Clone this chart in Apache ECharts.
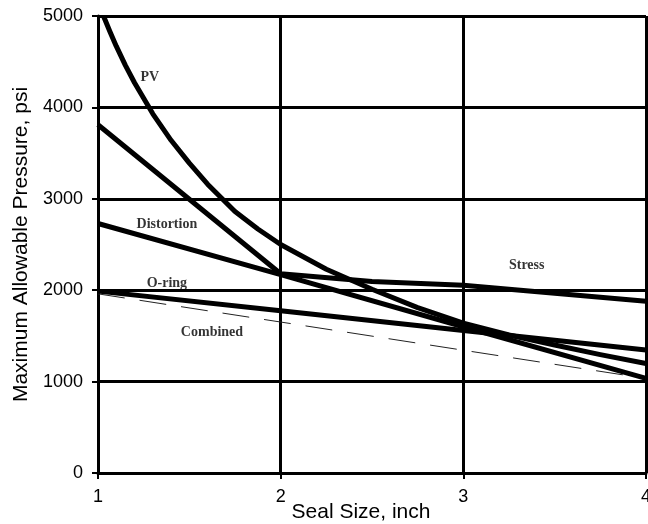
<!DOCTYPE html>
<html>
<head>
<meta charset="utf-8">
<script src="https://cdn.jsdelivr.net/npm/echarts@6/dist/echarts.min.js"></script>
<style>
html,body{margin:0;padding:0;background:#fff;overflow:hidden;}
#chart{width:648px;height:524px;}
</style>
</head>
<body>
<div id="chart"></div>
<script>
// ---- data ----
var xTicks = [1, 2, 3, 4];
var yTicks = [0, 1000, 2000, 3000, 4000, 5000];

var pvX = [1.03, 1.065, 1.1, 1.15, 1.2, 1.3, 1.4, 1.5, 1.6, 1.75, 1.875, 2, 2.25, 2.5, 2.75, 3, 3.25, 3.5, 3.75, 4];
var pvY = [5000, 4830, 4670, 4460, 4270, 3930, 3640, 3390, 3160, 2860, 2670, 2500, 2230, 2010, 1810, 1640, 1510, 1400, 1295, 1198];

var stressX = [1, 2, 2.5, 3, 4];
var stressY = [3810, 2180, 2095, 2055, 1880];

var distortionX = [1, 2, 3, 4];
var distortionY = [2730, 2170, 1600, 1035];

var oringX = [1, 2, 3, 4];
var oringY = [1990, 1775, 1560, 1345];

var combinedX = [1, 4];
var combinedY = [1960, 1035];

var labelNames = ['PV', 'Distortion', 'O-ring', 'Combined', 'Stress'];
var labelX = [1.284, 1.377, 1.377, 1.624, 3.347];
var labelY = [4333, 2721, 2077, 1540, 2274];

function pairs(xs, ys) { return xs.map(function (x, i) { return [x, ys[i]]; }); }

var chart = echarts.init(document.getElementById('chart'), null, {renderer: 'canvas'});

var thick = {color: '#000', width: 5, join: 'round'};
var option = {
  backgroundColor: '#fff',
  animation: false,
  grid: {left: 98, right: 2, top: 16, bottom: 51, containLabel: false, outerBoundsMode: 'none'},
  xAxis: {
    type: 'value', min: 1, max: 4, interval: 1,
    name: 'Seal Size, inch', nameLocation: 'middle', nameGap: 29, nameMoveOverlap: false,
    nameTextStyle: {fontFamily: 'Liberation Sans', fontSize: 21, color: '#000', padding: [0, 22, 0, 0]},
    axisLine: {show: true, onZero: false, lineStyle: {color: '#000', width: 3}},
    axisTick: {show: true, inside: false, length: 6, lineStyle: {color: '#000', width: 2}},
    axisLabel: {fontFamily: 'Liberation Sans', fontSize: 18, color: '#000', margin: 15,
      formatter: function (v) { return xTicks.indexOf(v) >= 0 ? String(v) : ''; }},
    splitLine: {show: true, lineStyle: {color: '#000', width: 3}}
  },
  yAxis: {
    type: 'value', min: 0, max: 5000, interval: 1000,
    name: 'Maximum Allowable Pressure, psi', nameLocation: 'middle', nameGap: 66, nameMoveOverlap: false,
    nameTextStyle: {fontFamily: 'Liberation Sans', fontSize: 21, color: '#000'},
    axisLine: {show: true, onZero: false, lineStyle: {color: '#000', width: 3}},
    axisTick: {show: true, inside: false, length: 6, lineStyle: {color: '#000', width: 2}},
    axisLabel: {fontFamily: 'Liberation Sans', fontSize: 18, color: '#000', margin: 15,
      formatter: function (v) { return yTicks.indexOf(v) >= 0 ? String(v) : ''; }},
    splitLine: {show: true, lineStyle: {color: '#000', width: 3}}
  },
  series: [
    {name: 'Combined', type: 'line', data: pairs(combinedX, combinedY), showSymbol: false,
      lineStyle: {color: '#222', width: 1, type: [27, 15]}, z: 3},
    {name: 'PV', type: 'line', data: pairs(pvX, pvY), showSymbol: false, smooth: false,
      lineStyle: thick, z: 4},
    {name: 'Stress', type: 'line', data: pairs(stressX, stressY), showSymbol: false,
      lineStyle: thick, z: 4},
    {name: 'Distortion', type: 'line', data: pairs(distortionX, distortionY), showSymbol: false,
      lineStyle: thick, z: 4},
    {name: 'O-ring', type: 'line', data: pairs(oringX, oringY), showSymbol: false,
      lineStyle: thick, z: 4},
    {name: 'labels', type: 'scatter', symbolSize: 1, itemStyle: {color: 'rgba(0,0,0,0)'},
      data: labelNames.map(function (n, i) { return {value: [labelX[i], labelY[i]], name: n}; }),
      label: {show: true, position: 'inside', formatter: '{b}', color: '#000',
        fontFamily: 'Liberation Serif', fontWeight: 'bold', fontSize: 14},
      z: 6}
  ]
};
chart.setOption(option);
</script>
</body>
</html>
